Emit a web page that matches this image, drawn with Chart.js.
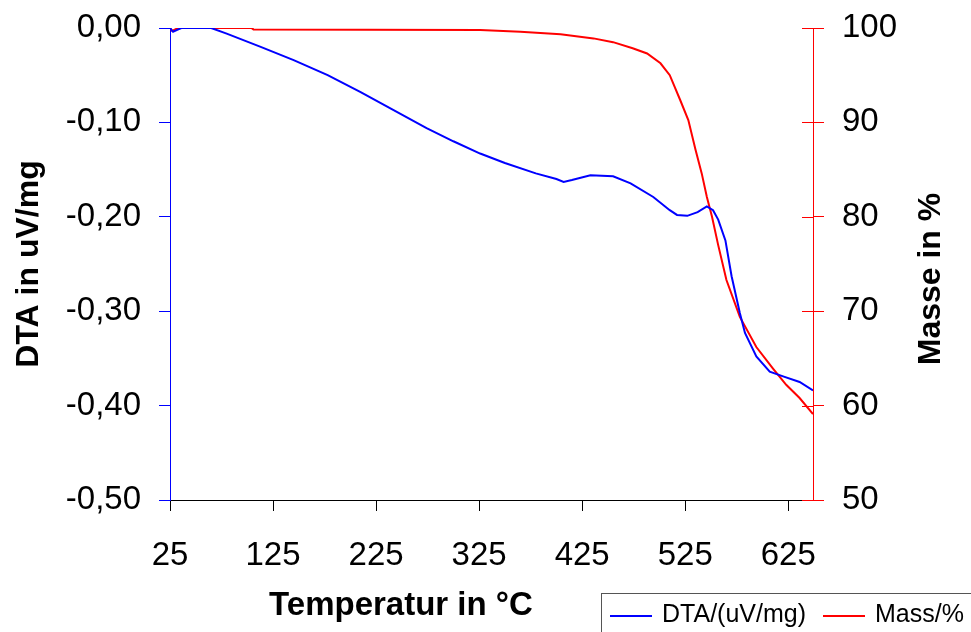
<!DOCTYPE html>
<html>
<head>
<meta charset="utf-8">
<script src="https://cdn.jsdelivr.net/npm/chart.js@4/dist/chart.umd.min.js"></script>
<style>
  html, body { margin: 0; padding: 0; background: white; }
  #wrap { width: 971px; height: 632px; }
</style>
</head>
<body>
<div id="wrap"><canvas id="dta"></canvas></div>
<script>
        // temperature in degC and readings
        var dtaTemp = [25, 28, 32, 36, 65, 80, 113, 145, 178, 210, 242, 274, 300, 326, 350, 380, 400, 407, 415, 433, 455, 472, 494, 510, 517, 527, 537, 546, 552, 557, 564, 570, 578, 583, 594, 607, 620, 636, 649];
        var dtaVals = [0, -0.004, -0.002, 0, 0, -0.006, -0.020, -0.034, -0.050, -0.068, -0.087, -0.106, -0.120, -0.133, -0.143, -0.154, -0.160, -0.163, -0.161, -0.156, -0.157, -0.1645, -0.179, -0.193, -0.198, -0.199, -0.195, -0.189, -0.193, -0.203, -0.225, -0.263, -0.302, -0.323, -0.348, -0.364, -0.369, -0.375, -0.384];

        var massTemp = [25, 27, 30, 33, 104, 106, 326, 365, 404, 436, 455, 474, 488, 501, 510, 520, 528, 535, 541, 546, 551, 557, 565, 578, 594, 610, 623, 636, 649];
        var massVals = [100, 99.7, 99.85, 100, 100, 99.85, 99.79, 99.6, 99.33, 98.9, 98.5, 97.85, 97.3, 96.26, 95.0, 92.4, 90.25, 87.1, 84.6, 82.1, 80.0, 77.0, 73.3, 69.4, 66.2, 63.95, 62.2, 60.8, 59.1];

        var xTicks = [25, 125, 225, 325, 425, 525, 625];

        var fam = '"Liberation Sans", Arial, sans-serif';

        function pts(xs, ys) {
            return xs.map(function (x, i) { return {x: x, y: ys[i]}; });
        }

        // fixed axis sizes so the plot box lands where the original is
        function fitY(w) {
            return function (s) {
                s.width = w;
                s.paddingTop = 0;
                s.paddingBottom = 0;
            };
        }

        var extras = {
            id: 'extras',
            afterDraw: function (chart) {
                var ctx = chart.ctx;
                var y1 = chart.scales.y1;
                ctx.save();
                // inner half of the right axis ticks
                ctx.strokeStyle = '#ff0000';
                ctx.lineWidth = 1;
                y1.ticks.forEach(function (t) {
                    var yy = Math.round(y1.getPixelForValue(t.value)) + 0.5;
                    ctx.beginPath();
                    ctx.moveTo(y1.left - 11, yy);
                    ctx.lineTo(y1.left, yy);
                    ctx.stroke();
                });

                // axis titles
                ctx.fillStyle = '#000';
                ctx.textAlign = 'center';
                ctx.textBaseline = 'middle';
                ctx.font = 'bold 33px ' + fam;
                ctx.fillText('Temperatur in °C', 401, 606);

                ctx.font = 'bold 32px ' + fam;
                ctx.save();
                ctx.translate(29, 264);
                ctx.rotate(-Math.PI / 2);
                ctx.fillText('DTA in uV/mg', 0, 0);
                ctx.restore();
                ctx.save();
                ctx.translate(931, 279);
                ctx.rotate(-Math.PI / 2);
                ctx.fillText('Masse in %', 0, 0);
                ctx.restore();

                // legend box, cut off at the corner like the original
                ctx.strokeStyle = '#555';
                ctx.lineWidth = 1;
                ctx.strokeRect(601.5, 593.5, 420, 80);
                ctx.lineWidth = 2;
                ctx.strokeStyle = '#0000ff';
                ctx.beginPath(); ctx.moveTo(610, 616); ctx.lineTo(652, 616); ctx.stroke();
                ctx.strokeStyle = '#ff0000';
                ctx.beginPath(); ctx.moveTo(823, 616); ctx.lineTo(865, 616); ctx.stroke();
                ctx.font = '25px ' + fam;
                ctx.textAlign = 'left';
                ctx.fillText('DTA/(uV/mg)', 662, 615);
                ctx.fillText('Mass/%', 875, 615);
                ctx.restore();
            }
        };

        const cv = document.getElementById('dta');
        new Chart(cv, {
            type: 'line',
            data: {
                datasets: [{
                    label: 'DTA/(uV/mg)',
                    data: pts(dtaTemp, dtaVals),
                    borderColor: '#0000ff',
                    borderWidth: 2,
                    pointRadius: 0,
                    yAxisID: 'y'
                }, {
                    label: 'Mass/%',
                    data: pts(massTemp, massVals),
                    borderColor: '#ff0000',
                    borderWidth: 2,
                    pointRadius: 0,
                    yAxisID: 'y1'
                }]
            },
            options: {
                responsive: true,
                maintainAspectRatio: false,
                animation: false,
                layout: { padding: { top: 28, left: 0, right: 0, bottom: 0 } },
                plugins: {
                    legend: { display: false },
                    tooltip: { enabled: false }
                },
                scales: {
                    x: {
                        type: 'linear',
                        min: 25,
                        max: 649,
                        afterBuildTicks: function (s) {
                            s.ticks = xTicks.map(function (v) { return {value: v}; });
                        },
                        afterFit: function (s) {
                            s.height = 132;
                            s.paddingLeft = 0;
                            s.paddingRight = 0;
                        },
                        border: { color: '#000', width: 1 },
                        grid: { drawOnChartArea: false, color: '#000', tickLength: 11 },
                        ticks: {
                            color: '#000',
                            font: { family: fam, size: 33 },
                            padding: 25,
                            maxRotation: 0,
                            autoSkip: false
                        }
                    },
                    y: {
                        position: 'left',
                        min: -0.5,
                        max: 0,
                        afterFit: fitY(170),
                        border: { color: '#0000ff', width: 1 },
                        grid: { drawOnChartArea: false, color: '#0000ff', tickLength: 11 },
                        ticks: {
                            stepSize: 0.1,
                            color: '#000',
                            padding: 18,
                            font: { family: fam, size: 33 },
                            callback: function (v) {
                                var s = Math.abs(v) < 1e-9 ? '0.00' : v.toFixed(2);
                                return s.replace('.', ',');
                            }
                        }
                    },
                    y1: {
                        position: 'right',
                        min: 50,
                        max: 100,
                        afterFit: fitY(158),
                        border: { color: '#ff0000', width: 1 },
                        grid: { drawOnChartArea: false, color: '#ff0000', tickLength: 11 },
                        ticks: {
                            stepSize: 10,
                            color: '#000',
                            padding: 18,
                            font: { family: fam, size: 33 }
                        }
                    }
                }
            },
            plugins: [extras]
        });
</script>
</body>
</html>
